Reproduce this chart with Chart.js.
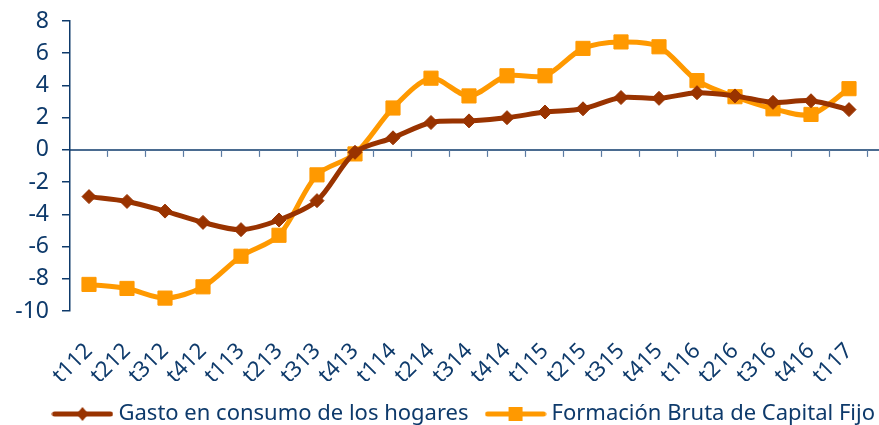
<!DOCTYPE html>
<html>
<head>
<meta charset="utf-8">
<script src="https://cdn.jsdelivr.net/npm/chart.js@4.4.0/dist/chart.umd.min.js"></script>
<style>
  html, body { margin: 0; padding: 0; background: #fff; }
  #grafico { display: block; }
</style>
</head>
<body>
<canvas id="grafico" width="879" height="425"></canvas>
<script>
var trimestres = ['t112', 't212', 't312', 't412', 't113', 't213', 't313', 't413', 't114', 't214', 't314',
	't414', 't115', 't215', 't315', 't415', 't116', 't216', 't316', 't416', 't117'];

var gastoConsumoHogares = [-2.9, -3.2, -3.8, -4.5, -4.95, -4.35, -3.15, -0.15, 0.75, 1.7, 1.8,
	2.0, 2.35, 2.55, 3.25, 3.2, 3.55, 3.35, 2.95, 3.05, 2.5];

var formacionBrutaCapital = [-8.35, -8.6, -9.2, -8.5, -6.6, -5.3, -1.55, -0.25, 2.6, 4.45, 3.35,
	4.6, 4.6, 6.3, 6.7, 6.4, 4.3, 3.3, 2.55, 2.2, 3.8];

var nomesSeries = ['Gasto en consumo de los hogares', 'Formación Bruta de Capital Fijo'];

var _marron = '#993300';
var _naranja = '#FF9900';
var _azul = '#0E3A6B';
var _fonte = '"Noto Sans", "Liberation Sans", Arial, sans-serif';

// icone da legenda: linha com o marcador no meio
function iconeLegenda(cor, tipo) {
	var c = document.createElement('canvas');
	c.width = 62;
	c.height = 18;
	var ctx = c.getContext('2d');
	ctx.strokeStyle = cor;
	ctx.lineWidth = 5;
	ctx.lineCap = 'round';
	ctx.beginPath();
	ctx.moveTo(3, 9);
	ctx.lineTo(59, 9);
	ctx.stroke();
	ctx.fillStyle = cor;
	ctx.beginPath();
	if (tipo == 'diamante') {
		ctx.moveTo(31, 2);
		ctx.lineTo(37, 9);
		ctx.lineTo(31, 16);
		ctx.lineTo(25, 9);
	} else {
		ctx.rect(24, 2, 14, 14);
	}
	ctx.closePath();
	ctx.fill();
	return c;
}

var _icones = [iconeLegenda(_marron, 'diamante'), iconeLegenda(_naranja, 'quadrado')];

// linha do zero e marcas do eixo x
var eixoZero = {
	id: 'eixoZero',
	afterLayout: function(chart) {
		// empurra a legenda um pouco para a direita, como no original
		chart.legend.left += 18;
		chart.legend.right += 18;
	},
	beforeDatasetsDraw: function(chart) {
		var ctx = chart.ctx;
		var area = chart.chartArea;
		var y0 = chart.scales.y.getPixelForValue(0);
		var passo = (area.right - area.left) / trimestres.length;

		ctx.save();
		ctx.strokeStyle = _azul;
		ctx.lineWidth = 1.5;
		ctx.beginPath();
		ctx.moveTo(area.left, y0);
		ctx.lineTo(chart.width, y0);
		ctx.stroke();

		ctx.strokeStyle = '#5B7BA3';
		ctx.lineWidth = 1.2;
		for (var i = 1; i <= trimestres.length; i++) {
			var x = Math.round(area.left + passo * i) - 0.5;
			ctx.beginPath();
			ctx.moveTo(x, y0);
			ctx.lineTo(x, y0 + 7);
			ctx.stroke();
		}
		ctx.restore();
	}
};

new Chart(document.getElementById('grafico').getContext('2d'), {
	type: 'line',
	data: {
		labels: trimestres,
		datasets: [{
			label: nomesSeries[0],
			data: gastoConsumoHogares,
			borderColor: _marron,
			backgroundColor: _marron,
			borderWidth: 5,
			pointStyle: 'rectRot',
			pointRadius: 7,
			pointBorderWidth: 1,
			tension: 0.3
		}, {
			label: nomesSeries[1],
			data: formacionBrutaCapital,
			borderColor: _naranja,
			backgroundColor: _naranja,
			borderWidth: 5,
			pointStyle: 'rect',
			pointRadius: 10,
			pointBorderWidth: 1,
			tension: 0.3
		}]
	},
	options: {
		responsive: false,
		animation: false,
		layout: { padding: { top: 21, right: 0, left: 0, bottom: -10 } },
		plugins: {
			tooltip: { enabled: false },
			legend: {
				position: 'bottom',
				align: 'end',
				labels: {
					usePointStyle: true,
					pointStyleWidth: 50,
					padding: 22,
					color: _azul,
					font: { family: _fonte, size: 22 },
					generateLabels: function(chart) {
						var itens = Chart.defaults.plugins.legend.labels.generateLabels(chart);
						itens.forEach(function(item, i) {
							item.pointStyle = _icones[i];
						});
						return itens;
					}
				}
			}
		},
		scales: {
			x: {
				offset: true,
				border: { display: false },
				grid: { display: true, drawOnChartArea: false, color: 'rgba(0,0,0,0)', tickLength: 23 },
				ticks: {
					color: _azul,
					font: { family: _fonte, size: 22 },
					maxRotation: 45,
					minRotation: 45,
					autoSkip: false,
					padding: 4
				},
				afterFit: function(scale) { scale.height = 70; }
			},
			y: {
				min: -10,
				max: 8,
				border: { display: true, color: _azul, width: 1.5 },
				grid: { drawOnChartArea: false, color: _azul, tickLength: 8, lineWidth: 1.5 },
				ticks: {
					stepSize: 2,
					autoSkip: false,
					color: _azul,
					padding: 13,
					font: { family: _fonte, size: 23 }
				},
				afterFit: function(scale) {
					scale.width = 70;
					scale.paddingTop = 0;
					scale.paddingBottom = 0;
				}
			}
		}
	},
	plugins: [eixoZero]
});
</script>
</body>
</html>
